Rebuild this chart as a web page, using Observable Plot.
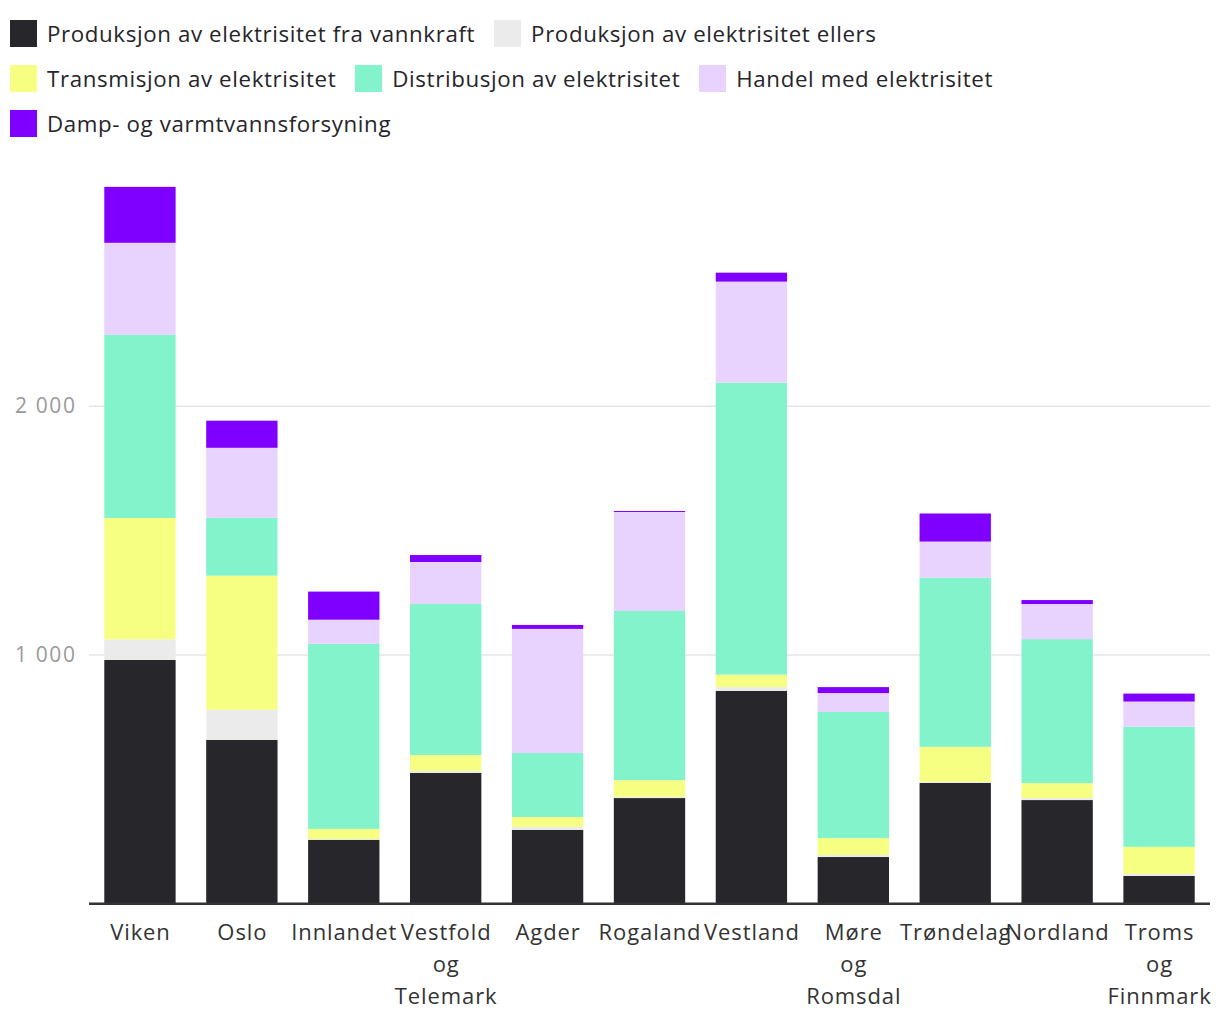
<!DOCTYPE html>
<html>
<head>
<meta charset="utf-8">
<script src="https://cdn.jsdelivr.net/npm/d3@7"></script>
<script src="https://cdn.jsdelivr.net/npm/@observablehq/plot@0.6"></script>
<style>
  html, body { margin: 0; padding: 0; background: #fff; }
  body { width: 1220px; height: 1020px; overflow: hidden; font-family: "Open Sans", sans-serif; }
  #legend { height: 150px; box-sizing: border-box; padding: 20px 0 0 10px; }
  .row { display: flex; height: 45px; align-items: flex-start; }
  .item { display: flex; align-items: center; margin-right: 19px; height: 27px; }
  .sw { width: 27px; height: 27px; margin-right: 10px; flex: none; }
  .lbl { font-size: 22.3px; letter-spacing: 0.62px; color: #26252a; white-space: nowrap; line-height: 27px; }
  #chart svg g[aria-label="x-axis tick label"] text { letter-spacing: 0.9px; }
  #chart svg g[aria-label="y-axis tick label"] text { letter-spacing: 1.6px; }
</style>
</head>
<body>
<div id="legend"></div>
<div id="chart"></div>
<script>
const regions = ["Viken","Oslo","Innlandet","Vestfold og Telemark","Agder","Rogaland","Vestland","Møre og Romsdal","Trøndelag","Nordland","Troms og Finnmark"];
const seriesNames = [
  "Produksjon av elektrisitet fra vannkraft",
  "Produksjon av elektrisitet ellers",
  "Transmisjon av elektrisitet",
  "Distribusjon av elektrisitet",
  "Handel med elektrisitet",
  "Damp- og varmtvannsforsyning"
];
const seriesColors = ["#27262b","#ebebeb","#f7ff82","#83f3cc","#e8d3ff","#8000ff"];
const vannkraft    = [978, 657, 255, 524, 295, 423, 854, 186, 484, 415, 110];
const ellers       = [ 83, 121,   3,   8,  12,   5,  15,   8,   4,   8,   8];
const transmisjon  = [488, 539,  41,  64,  40,  67,  50,  68, 141,  60, 109];
const distribusjon = [736, 233, 744, 607, 257, 680,1174, 507, 680, 579, 483];
const handel       = [370, 281,  97, 169, 499, 398, 406,  76, 145, 141, 101];
const damp         = [225, 109, 113,  28,  16,   4,  36,  24, 113,  16,  32];
const yTicks = [1000, 2000];
const legendRows = [[0,1],[2,3,4],[5]];

const seriesValues = [vannkraft, ellers, transmisjon, distribusjon, handel, damp];
const data = [];
seriesNames.forEach((s, i) => regions.forEach((r, j) => data.push({region: r, series: s, value: seriesValues[i][j]})));

// legend
const legend = document.getElementById("legend");
legendRows.forEach(row => {
  const rd = document.createElement("div");
  rd.className = "row";
  row.forEach(i => {
    const it = document.createElement("div");
    it.className = "item";
    it.innerHTML = `<div class="sw" style="background:${seriesColors[i]}"></div><div class="lbl">${seriesNames[i]}</div>`;
    rd.appendChild(it);
  });
  legend.appendChild(rd);
});

const locale = d3.formatLocale({decimal: ",", thousands: " ", grouping: [3], currency: ["", " kr"]});
const fmt = locale.format(",d");

const chart = Plot.plot({
  width: 1220,
  height: 870,
  marginLeft: 89,
  marginRight: 10,
  marginTop: 7,
  marginBottom: 116.7,
  style: {fontFamily: "Open Sans, sans-serif", background: "#fff"},
  x: {domain: regions, paddingInner: 0.3, paddingOuter: 0.15, round: false, label: null},
  y: {domain: [0, 3000], label: null},
  color: {domain: seriesNames, range: seriesColors},
  marks: [
    Plot.gridY(yTicks, {stroke: "#e6e6e6", strokeOpacity: 1, strokeWidth: 1.5}),
    Plot.barY(data, {x: "region", y: "value", fill: "series", order: seriesNames}),
    Plot.ruleY([0], {stroke: "#333", strokeWidth: 2.5}),
    Plot.axisY(yTicks, {tickSize: 0, tickPadding: 13, tickFormat: fmt, fontSize: 21, fill: "#9a9a9a", label: null}),
    Plot.axisX({tickSize: 0, tickPadding: 14, fontSize: 22, fill: "#333", lineHeight: 1.45,
      tickFormat: d => d.split(" ").join("\n"), label: null})
  ]
});
document.getElementById("chart").appendChild(chart);
</script>
</body>
</html>
